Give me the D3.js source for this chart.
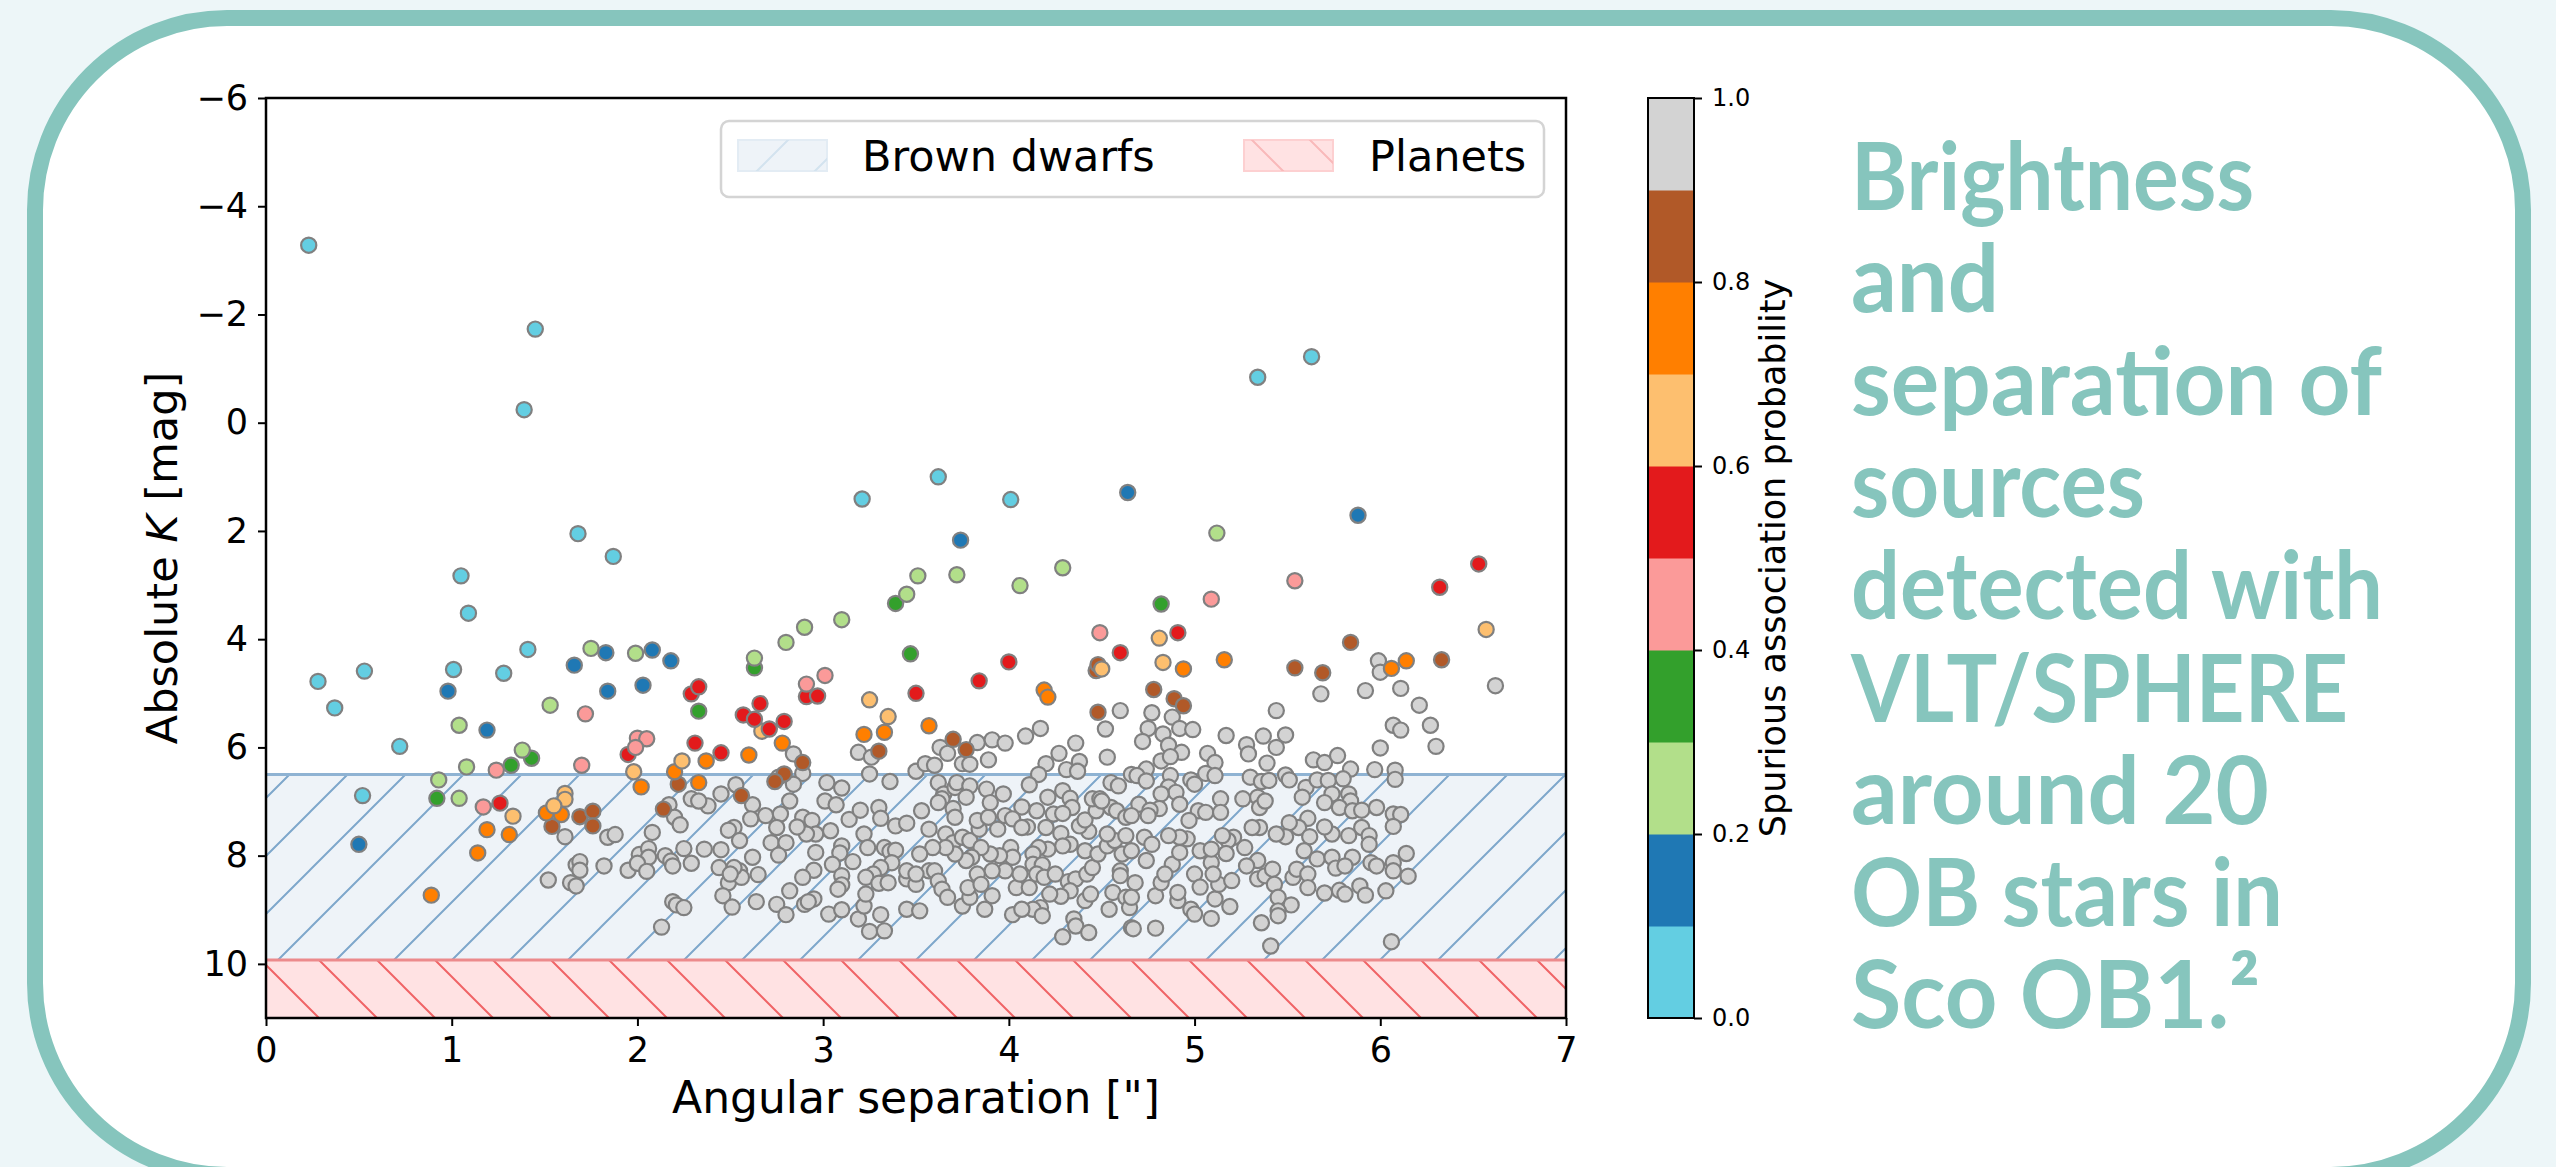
<!DOCTYPE html>
<html lang="en">
<head>
<meta charset="UTF-8">
<title>Brightness and separation of sources / Sco OB1</title>
<script src="https://cdn.jsdelivr.net/npm/d3@7"></script>
<style>
  html, body { margin: 0; padding: 0; background: #edf6f8; }
  svg { display: block; }
</style>
</head>
<body>
<svg id="chart" width="2556" height="1167"></svg>
<script>
// ---- data ----
const xTicks = [0, 1, 2, 3, 4, 5, 6, 7];
const yTicks = [-6, -4, -2, 0, 2, 4, 6, 8, 10];
const cbTicks = [0, 0.2, 0.4, 0.6, 0.8, 1.0];
const probBins = [0.05, 0.15, 0.25, 0.35, 0.45, 0.55, 0.65, 0.75, 0.85, 0.95];
const binColors = ["#63cee2", "#1f78b4", "#b2df8a", "#33a02c", "#fb9a99",
                   "#e31a1c", "#fdbf6f", "#ff7f00", "#b15928", "#d3d3d3"];
const brownDwarfBand = [6.5, 9.93];
const planetBand = [9.93, 11];
const legendLabels = ["Brown dwarfs", "Planets"];
const titleLines = ["Brightness", "and", "separation of", "sources", "detected with",
                    "VLT/SPHERE", "around 20", "OB stars in", "Sco OB1.\u00b2"];

// [separation ("), absolute K (mag)] per spurious association probability bin
const p05 = [[0.23,-3.28],[1.45,-1.73],[1.39,-0.24],[1.68,2.05],[1.87,2.47],[1.05,2.83],[3.62,1.00],[3.21,1.41],
  [4.01,1.42],[5.63,-1.22],[5.34,-0.84],[1.09,3.52],[0.28,4.78],[0.53,4.59],[0.37,5.27],[1.01,4.56],[1.28,4.63],
  [1.41,4.19],[0.72,5.98],[0.52,6.89]];
const p15 = [[4.64,1.29],[3.74,2.17],[5.88,1.71],[0.98,4.96],[0.50,7.79],[1.19,5.68],[1.66,4.48],[1.83,4.25],
  [2.08,4.20],[2.18,4.40],[1.84,4.96],[2.03,4.85]];
const p25 = [[5.12,2.04],[4.29,2.68],[3.51,2.83],[3.72,2.81],[4.06,3.01],[3.45,3.17],[3.10,3.64],[2.90,3.78],
  [2.80,4.06],[2.63,4.35],[1.04,5.59],[1.08,6.36],[0.93,6.60],[1.04,6.94],[1.38,6.05],[1.53,5.22],[1.75,4.17],[1.99,4.26]];
const p35 = [[3.39,3.34],[2.63,4.53],[3.47,4.27],[0.92,6.94],[1.32,6.33],[1.43,6.20],[2.33,5.33],[4.82,3.35]];
const p45 = [[1.24,6.42],[1.17,7.10],[1.72,5.38],[1.70,6.33],[2.00,5.83],[2.05,5.84],[1.99,6.00],[3.01,4.67],
  [2.91,4.83],[4.49,3.88],[5.54,2.92],[5.09,3.26]];
const p55 = [[1.26,7.03],[2.29,5.01],[2.33,4.88],[2.31,5.92],[1.95,6.13],[2.91,5.06],[2.97,5.05],[3.50,5.00],
  [3.84,4.77],[4.00,4.42],[4.60,4.25],[2.66,5.19],[2.57,5.40],[2.63,5.48],[2.71,5.66],[2.79,5.52],[2.45,6.10],
  [6.32,3.04],[4.91,3.88],[6.53,2.61]];
const p65 = [[1.33,7.27],[1.98,6.45],[2.24,6.25],[1.61,6.85],[1.61,6.96],[1.55,7.08],[2.67,5.70],[3.25,5.12],
  [3.35,5.43],[4.50,4.55],[4.81,3.98],[4.83,4.43],[6.57,3.82]];
const p75 = [[1.19,7.52],[1.31,7.61],[1.14,7.95],[0.89,8.73],[2.02,6.73],[2.20,6.45],[2.33,6.65],[1.51,7.21],
  [1.59,7.24],[2.78,5.92],[2.37,6.25],[2.60,6.14],[3.33,5.72],[3.22,5.76],[3.57,5.60],[4.19,4.94],[4.21,5.07],
  [4.94,4.55],[5.16,4.38],[6.06,4.54],[6.14,4.40]];
const p85 = [[2.22,6.68],[1.54,7.46],[1.69,7.28],[1.76,7.18],[1.76,7.45],[2.14,7.14],[4.47,4.58],[4.48,4.47],
  [4.48,5.35],[3.30,6.07],[3.70,5.85],[3.77,6.04],[2.89,6.28],[2.79,6.49],[2.74,6.63],[2.56,6.89],[5.84,4.06],
  [6.33,4.38],[5.54,4.53],[5.69,4.62],[4.78,4.93],[4.89,5.10],[4.94,5.23]];
const p95 = [[1.61,7.65],[1.84,7.66],[1.88,7.61],[2.08,7.57],[2.17,7.06],[2.20,7.29],[2.23,7.43],[2.29,6.95],
  [1.52,8.45],[1.67,8.17],[1.69,8.11],[1.69,8.27],[1.64,8.50],[1.67,8.56],[1.82,8.19],[1.95,8.27],[2.01,7.98],
  [2.06,7.87],[2.06,8.03],[2.00,8.14],[2.05,8.29],[2.15,8.00],[2.18,8.10],[2.19,8.19],[2.25,7.87],[2.29,8.14],
  [2.19,8.85],[2.21,8.91],[2.25,8.96],[2.13,9.32],
  [2.84,6.12],[2.76,6.55],[2.89,6.48],[2.84,6.68],[2.53,6.69],[2.45,6.86],[2.38,7.08],[2.33,6.99],[2.62,7.06],
  [2.69,7.26],[2.61,7.32],[2.77,7.23],[2.82,6.99],[2.75,7.48],[2.52,7.48],[2.49,7.53],[2.55,7.72],[2.36,7.88],
  [2.45,7.89],[2.72,7.76],[2.80,7.76],[2.76,7.99],[2.89,7.29],[2.94,7.35],[2.96,7.60],[2.91,7.60],[2.86,7.47],
  [2.96,7.94],[3.04,7.54],[3.02,6.65],[3.10,6.75],[3.01,6.99],[3.07,7.06],[3.14,7.33],[3.20,7.16],[3.30,7.11],
  [3.31,7.31],[3.39,7.45],[3.45,7.40],[3.22,7.60],[3.10,7.82],[3.09,7.95],[3.05,8.16],[3.16,8.11],[3.24,7.85],
  [3.33,7.85],[3.36,7.92],[3.39,7.90],[3.37,8.13],[3.31,8.22],[3.27,8.34],[3.23,8.40],[3.30,8.51],[3.35,8.50],
  [3.45,8.43],[3.50,8.53],[3.10,8.37],[3.10,8.54],[3.08,8.62],[2.95,8.27],[2.89,8.40],[2.82,8.65],[2.75,8.90],
  [2.80,9.09],[2.90,8.90],[2.95,8.80],[2.92,8.85],[3.03,9.08],[3.10,9.00],[3.19,9.17],[3.22,8.93],[3.23,8.71],
  [3.31,9.09],[3.25,9.40],[3.33,9.39],[3.45,8.99],[3.52,9.02],[2.62,8.03],[2.55,8.28],[2.51,8.37],[2.44,8.22],
  [2.49,8.50],[2.46,8.74],[2.51,8.95],[2.64,8.85],[2.56,8.40],[2.65,8.35],[2.52,8.22],[2.50,8.34],
  [3.19,6.09],[3.26,6.18],[3.25,6.49],[3.36,6.63],[3.50,6.44],[3.55,6.30],[3.60,6.33],[3.63,6.00],[3.67,6.11],
  [3.75,6.30],[3.79,6.31],[3.83,5.91],[3.91,5.86],[3.98,5.92],[3.89,6.23],[4.09,5.79],[4.17,5.65],[4.27,6.11],
  [4.36,5.92],[4.38,6.26],[4.31,6.41],[4.37,6.44],[4.20,6.30],[4.16,6.50],[4.11,6.69],[4.21,6.92],[4.29,6.80],
  [4.33,6.94],[4.34,7.11],[4.24,7.23],[4.29,7.22],[4.15,7.17],[4.07,7.10],[4.10,7.47],[4.20,7.48],[4.28,7.59],
  [4.33,7.79],[4.29,7.82],[4.21,7.88],[4.16,7.85],[4.13,7.97],[4.13,8.16],[4.18,8.17],[4.15,8.34],[4.19,8.40],
  [4.25,8.34],[4.32,8.48],[4.36,8.43],[4.33,8.65],[4.28,8.75],[4.22,8.71],[4.17,8.96],[4.13,8.99],[4.18,9.11],
  [4.35,9.17],[4.36,9.30],[4.43,9.42],[4.29,9.50],[4.41,8.83],[4.44,8.71],[4.42,8.34],[4.45,8.22],[4.41,7.91],
  [4.48,7.97],[4.53,7.82],[4.57,7.72],[4.53,7.60],[4.43,7.55],[4.38,7.45],[4.41,7.34],[4.47,7.17],[4.55,7.11],
  [4.58,7.17],[4.63,7.29],[4.63,7.63],[4.61,7.97],[4.60,8.28],[4.60,8.37],[4.56,8.68],[4.54,8.99],[4.63,8.77],
  [4.66,9.33],[4.65,8.96],[4.52,5.66],[4.53,6.18],[4.55,6.65],[4.59,6.71],[4.45,6.95],[4.49,6.95],[4.50,6.99],
  [4.66,6.50],[4.60,5.32],
  [3.62,6.65],[3.65,6.86],[3.64,6.95],[3.71,6.74],[3.72,6.65],[3.79,6.71],[3.77,6.92],[3.70,7.13],[3.71,7.29],
  [3.62,7.02],[3.53,7.17],[3.57,7.51],[3.66,7.60],[3.70,7.76],[3.75,7.66],[3.79,7.72],[3.84,7.51],[3.83,7.35],
  [3.89,7.29],[3.88,6.77],[3.90,7.02],[3.97,6.86],[3.94,7.51],[3.98,7.26],[4.02,7.32],[4.07,7.48],[4.01,7.85],
  [4.02,8.03],[3.95,8.00],[3.90,7.97],[3.85,7.85],[3.80,8.03],[3.77,8.09],[3.71,7.97],[3.66,7.85],[3.59,7.85],
  [3.52,7.97],[3.57,8.28],[3.60,8.28],[3.62,8.47],[3.64,8.62],[3.67,8.77],[3.75,8.93],[3.79,8.77],[3.78,8.59],
  [3.83,8.34],[3.85,8.53],[3.91,8.74],[3.87,8.99],[4.02,9.09],[4.07,8.99],[4.04,8.59],[4.06,8.34],[4.11,8.59],
  [3.98,8.28],[3.91,8.28],[3.45,8.28],[3.50,8.34],
  [5.99,4.40],[6.00,4.61],[5.68,5.01],[5.92,4.95],[6.11,4.91],[6.62,4.86],[6.21,5.22],[6.27,5.59],[6.30,5.98],
  [6.07,5.59],[6.11,5.68],[6.00,6.01],[5.97,6.41],[6.08,6.42],[6.08,6.59],[5.44,5.32],[5.17,5.78],[5.37,5.79],
  [5.49,5.77],[5.44,6.00],[5.28,5.95],[5.29,6.12],[5.39,6.29],[5.07,6.11],[5.11,6.28],[5.06,6.48],[5.11,6.52],
  [4.98,6.60],[5.00,6.68],[4.77,5.36],[4.88,5.44],[4.75,5.65],[4.72,5.89],[4.83,5.75],[4.86,5.96],[4.93,6.09],
  [4.92,5.65],[4.99,5.67],[4.82,6.25],[4.87,6.17],[4.74,6.40],[4.69,6.52],[4.74,6.62],[4.87,6.52],[4.86,6.73],
  [4.90,6.83],[4.92,7.05],[4.82,6.86],[4.81,7.13],[4.70,7.05],[4.76,7.16],[4.75,7.26],[4.66,7.26],[5.02,7.17],
  [5.06,7.20],[5.14,6.95],[5.14,7.20],[5.26,6.95],[5.30,6.55],[5.36,6.63],[5.40,6.61],[5.34,6.92],[5.35,7.11],
  [5.38,6.99],[5.49,6.51],[5.51,6.60],[5.60,6.74],[5.58,6.92],[5.64,6.23],[5.70,6.28],[5.77,6.15],[5.84,6.40],
  [5.66,6.60],[5.72,6.61],[5.80,6.58],[5.74,6.86],[5.83,6.86],[5.84,6.99],[5.70,7.02],[5.78,7.11],[5.85,7.17],
  [5.90,7.16],[5.98,7.11],[5.90,7.48],[5.94,7.63],[5.94,7.79],[5.83,7.63],[5.74,7.60],[5.70,7.47],[5.61,7.31],
  [5.56,7.48],[5.51,7.39],[5.62,7.65],[5.49,7.65],[5.44,7.60],[5.35,7.48],[5.31,7.48],[5.27,7.85],[5.21,7.66],
  [5.18,7.72],[5.15,7.63],[4.97,7.35],[4.96,7.69],[4.92,7.66],[4.86,7.63],[4.73,7.66],[4.77,7.79],[4.66,7.91],
  [4.74,8.09],[4.88,8.16],[4.92,7.94],[5.03,7.91],[5.09,8.13],[5.17,7.96],[5.09,7.88],[5.34,8.09],[5.28,8.19],
  [5.34,8.43],[5.38,8.37],[5.42,8.25],[5.43,8.53],[5.45,8.77],[5.53,8.40],[5.55,8.25],[5.59,7.91],[5.66,8.06],
  [5.74,8.03],[5.76,8.23],[5.85,8.03],[5.81,8.19],[5.95,8.13],[5.98,8.19],[6.07,8.13],[6.07,8.28],[6.14,7.96],
  [6.15,8.38],[6.07,7.23],[6.11,7.24],[6.07,7.46],[5.61,8.34],[5.61,8.59],[5.70,8.69],[5.78,8.64],[5.81,8.71],
  [5.89,8.56],[5.92,8.73],[6.03,8.65],[5.52,8.91],[5.45,9.02],[5.45,9.11],[5.36,9.24],[5.41,9.67],[6.06,9.59],
  [4.79,9.34],[4.67,9.35],[5.09,9.16],[5.19,8.94],[5.11,8.80],[4.98,8.99],[5.00,9.08],[4.91,8.83],[4.91,8.68],
  [4.79,8.74],[4.82,8.50],[4.68,8.50],[4.66,8.77],[4.84,8.34],[5.00,8.34],[5.03,8.58],[5.13,8.53],[5.20,8.46],
  [5.10,8.34]];

const pointsByBin = [p05, p15, p25, p35, p45, p55, p65, p75, p85, p95];

// ---- layout ----
const svg = d3.select("#chart");
const plot = {left: 266, right: 1566, top: 98, bottom: 1018};
const font = "'DejaVu Sans', sans-serif";
const teal = "#86c5bd";

const x = d3.scaleLinear().domain([0, 7]).range([plot.left, plot.right]);
const y = d3.scaleLinear().domain([-6, 11]).range([plot.top, plot.bottom]);

// rounded card
svg.append("rect")
  .attr("x", 35).attr("y", 18).attr("width", 2488).attr("height", 1157)
  .attr("rx", 192).attr("ry", 192)
  .attr("fill", "#fff").attr("stroke", teal).attr("stroke-width", 16);

// hatch patterns
const defs = svg.append("defs");
function hatch(id, dir, color, width, offset) {
  const p = defs.append("pattern").attr("id", id)
    .attr("patternUnits", "userSpaceOnUse")
    .attr("width", 58).attr("height", 58).attr("x", offset).attr("y", 0);
  const d = dir === "/"
    ? "M0,58 L58,0 M-10,10 L10,-10 M48,68 L68,48"
    : "M0,0 L58,58 M-10,48 L10,68 M48,-10 L68,10";
  p.append("path").attr("d", d).attr("stroke", color).attr("stroke-width", width).attr("fill", "none");
}
hatch("hBlue", "/", "#7ea7cb", 2, 20);
hatch("hRed", "\\", "#f06466", 2, 55);
hatch("hBlueLeg", "/", "#d3e3ef", 2, 0);
hatch("hRedLeg", "\\", "#f9b9ba", 2, 10);

// bands
const bands = [
  {range: brownDwarfBand, fill: "#eef3f8", hatch: "url(#hBlue)", edge: "#8fb3d3"},
  {range: planetBand, fill: "#ffe2e3", hatch: "url(#hRed)", edge: "#ec8a8c"}
];
bands.forEach(b => {
  const y0 = y(b.range[0]), y1 = y(b.range[1]);
  svg.append("rect").attr("x", x(0)).attr("y", y0).attr("width", x(7) - x(0)).attr("height", y1 - y0)
    .attr("fill", b.fill);
  svg.append("rect").attr("x", x(0)).attr("y", y0).attr("width", x(7) - x(0)).attr("height", y1 - y0)
    .attr("fill", b.hatch);
  svg.append("line").attr("x1", x(0)).attr("x2", x(7)).attr("y1", y0).attr("y2", y0)
    .attr("stroke", b.edge).attr("stroke-width", 3);
});

// points: unlikely companions (grey) first, coloured ones on top
const pts = [];
pointsByBin.slice().reverse().forEach((arr, j) => {
  const i = probBins.length - 1 - j;
  arr.forEach(d => pts.push({sep: d[0], mag: d[1], p: probBins[i]}));
});

const color = d3.scaleQuantize().domain([0, 1]).range(binColors);

svg.append("g")
  .selectAll("circle")
  .data(pts)
  .join("circle")
  .attr("cx", d => x(d.sep))
  .attr("cy", d => y(d.mag))
  .attr("r", 7.6)
  .attr("fill", d => color(d.p))
  .attr("stroke", "#808080")
  .attr("stroke-width", 2.2);

// axes
const xAxis = d3.axisBottom(x).tickValues(xTicks).tickSize(8).tickPadding(11).tickFormat(d3.format("d"));
const yAxis = d3.axisLeft(y).tickValues(yTicks).tickSize(8).tickPadding(10).tickFormat(d3.format("d"));

svg.append("g").attr("transform", `translate(0,${plot.bottom})`).call(xAxis)
  .call(g => g.select(".domain").remove())
  .call(g => g.selectAll("line").attr("stroke", "#000").attr("stroke-width", 2))
  .call(g => g.selectAll("text").attr("font-size", 35).attr("font-family", font).attr("fill", "#000"));

svg.append("g").attr("transform", `translate(${plot.left},0)`).call(yAxis)
  .call(g => g.select(".domain").remove())
  .call(g => g.selectAll("line").attr("stroke", "#000").attr("stroke-width", 2))
  .call(g => g.selectAll("text").attr("font-size", 35).attr("font-family", font).attr("fill", "#000"));

// frame
svg.append("rect")
  .attr("x", plot.left).attr("y", plot.top)
  .attr("width", plot.right - plot.left).attr("height", plot.bottom - plot.top)
  .attr("fill", "none").attr("stroke", "#000").attr("stroke-width", 2.5);

// axis labels
svg.append("text")
  .attr("x", (plot.left + plot.right) / 2).attr("y", 1113)
  .attr("text-anchor", "middle").attr("font-family", font).attr("font-size", 44)
  .text("Angular separation [\"]");

const yl = svg.append("text")
  .attr("transform", `translate(177,${(plot.top + plot.bottom) / 2}) rotate(-90)`)
  .attr("text-anchor", "middle").attr("font-family", font).attr("font-size", 43);
yl.append("tspan").text("Absolute ");
yl.append("tspan").attr("font-style", "italic").text("K");
yl.append("tspan").text(" [mag]");

// legend
const leg = svg.append("g");
leg.append("rect").attr("x", 721).attr("y", 121).attr("width", 823).attr("height", 76).attr("rx", 8)
  .attr("fill", "#fff").attr("fill-opacity", 0.8).attr("stroke", "#d4d4d4").attr("stroke-width", 2.5);
const legItems = [
  {label: legendLabels[0], px: 738, tx: 862, fill: "#eef3f8", hatch: "url(#hBlueLeg)", edge: "#e3ecf4"},
  {label: legendLabels[1], px: 1244, tx: 1369, fill: "#ffe2e3", hatch: "url(#hRedLeg)", edge: "#fdd0d1"}
];
legItems.forEach(it => {
  leg.append("rect").attr("x", it.px).attr("y", 140).attr("width", 89).attr("height", 31).attr("fill", it.fill)
    .attr("stroke", it.edge).attr("stroke-width", 2);
  leg.append("rect").attr("x", it.px).attr("y", 140).attr("width", 89).attr("height", 31).attr("fill", it.hatch);
  leg.append("text").attr("x", it.tx).attr("y", 171).attr("font-family", font).attr("font-size", 43)
    .text(it.label);
});

// colorbar
const cb = {x: 1648, w: 46};
const cy = d3.scaleLinear().domain([0, 1]).range([plot.bottom, plot.top]);
const cbg = svg.append("g");
cbg.selectAll("rect.seg")
  .data(binColors)
  .join("rect")
  .attr("class", "seg")
  .attr("x", cb.x).attr("width", cb.w)
  .attr("y", (c, i) => cy((i + 1) / 10))
  .attr("height", (c, i) => cy(i / 10) - cy((i + 1) / 10) + 0.5)
  .attr("fill", c => c);
cbg.append("rect").attr("x", cb.x).attr("y", plot.top).attr("width", cb.w).attr("height", plot.bottom - plot.top)
  .attr("fill", "none").attr("stroke", "#000").attr("stroke-width", 2);
cbg.append("g").attr("transform", `translate(${cb.x + cb.w},0)`)
  .call(d3.axisRight(cy).tickValues(cbTicks).tickSize(8).tickPadding(10).tickFormat(d3.format(".1f")))
  .call(g => g.select(".domain").remove())
  .call(g => g.selectAll("line").attr("stroke", "#000").attr("stroke-width", 2))
  .call(g => g.selectAll("text").attr("font-size", 24).attr("font-family", font).attr("fill", "#000"));
svg.append("text")
  .attr("transform", `translate(1785,${(plot.top + plot.bottom) / 2}) rotate(-90)`)
  .attr("text-anchor", "middle").attr("font-family", font).attr("font-size", 35)
  .text("Spurious association probability");

// title block
const lineWidths = [403, 148, 531, 294, 532, 497, 418, 432, 409];
const title = svg.append("g").attr("fill", teal).attr("font-family", "Lato, 'Open Sans', sans-serif")
  .attr("font-weight", 700).attr("font-size", 94);
titleLines.forEach((t, i) => {
  title.append("text")
    .attr("x", 1851).attr("y", 210 + i * 102.3)
    .attr("textLength", lineWidths[i]).attr("lengthAdjust", "spacingAndGlyphs")
    .text(t);
});
</script>
</body>
</html>
